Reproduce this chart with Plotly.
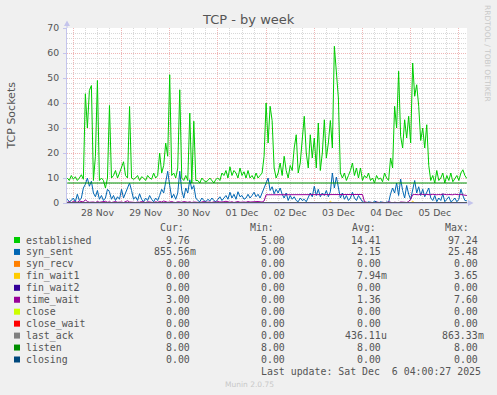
import plotly.graph_objects as go
import pandas as pd

# ---------------- data (hourly samples) ----------------
start_time = "2025-11-27 21:00"
x_range = ["2025-11-27 20:51", "2025-12-06 04:03"]

established = [
    10, 9, 11, 9.5, 10.5, 9, 10, 11.3, 9.5,
    43.7, 30, 45, 47, 9, 18.7, 49, 9, 10, 9, 6, 10, 39, 10, 11, 13, 10, 12, 14, 16.5, 11, 10, 38.6, 10,
    9.5, 10, 11, 9, 10.5, 10, 9, 11, 10, 9.5, 12, 10, 11,
    20, 12, 15, 24, 18.7, 51.3, 11, 12, 10, 14, 45.3, 10, 9, 11, 9, 36, 8, 32.7, 9,
    9, 8, 10, 9, 8.5, 9, 10, 9, 8, 9.5,
    10, 9, 12, 11, 13, 10, 14.5, 11, 13, 12, 10, 14, 11, 12.5, 10, 13,
    10, 11, 9.5, 12, 10, 11, 12,
    18.7, 40, 24, 38.7, 33, 14, 10, 12, 16, 11, 18.7, 13, 10,
    15, 13, 22, 27.3, 12, 16, 25, 34.7, 20, 14, 27.3, 18, 26, 14, 32, 13, 20, 33.3, 18, 24, 33, 22, 62.7, 52, 42, 12,
    10, 12, 9, 11, 13, 16, 11, 14, 10, 14, 9, 11, 10, 12, 9, 10, 8, 11, 9.5, 10, 8.5, 12, 10, 9,
    18, 14, 38.7, 30, 52.7, 26.7, 22, 33.3, 26, 34.7, 24, 56, 42.7, 47.3, 38.7, 25, 30, 22, 31.3, 15, 9,
    11, 8, 13, 9, 10, 12, 8, 11, 9, 12, 8.5, 10, 11, 9, 12, 13.3, 11, 9.76,
]

syn_sent = [
    1.5, 0.5, 1, 2, 0.5, 3.5, 1,
    2, 6, 7.5, 10, 6.7, 8.7, 4, 2.5, 5, 1.5, 3, 1, 2,
    5.5, 4.5, 1.5, 3, 1, 2.5, 1.5, 5.5, 2, 4, 6.5, 8, 5, 1.5, 2.5, 1,
    3.7, 1.5, 0.5, 2, 1, 3, 1.5, 0.5, 2, 1, 3,
    5.5, 4, 8, 12.7, 7, 2, 3.5, 1.5, 4, 12.7, 5, 2, 6, 4, 9.3, 5.5, 7, 2, 1,
    0.5, 2, 1, 0.5, 1.5, 0.8, 2, 1, 0.5,
    1.5, 2.5, 1, 2, 3, 1.5, 4.3, 2, 3.5, 1.5, 4.5, 2.5, 3, 1.5, 2, 3.5,
    2, 3, 4.3, 2.5, 3.5, 2, 4,
    6, 8.7, 10, 5, 6.5, 3.7, 5.5, 4, 6, 3.5, 2, 4, 1, 3,
    1.5, 2.5, 1, 0.5, 2, 1, 1.5, 0.5, 2.5, 4, 2.5, 6.7, 3, 5.5, 2.5, 4, 3, 5, 2.5, 4.5,
    12, 6, 10.4, 5.5, 2, 4, 1.5, 3, 1, 2, 4.3, 2, 1, 3, 1.5, 0.5,
    0.2, 0, 0.5, 0.2, 0, 0.8, 0.3, 0, 0.5, 0.2, 0, 0.4, 0.2,
    3.7, 6, 4, 8, 3, 9.6, 5, 2, 7, 3.5, 1.5, 6, 9, 4, 6.5, 3, 5.5, 2.5, 4, 6, 2,
    1, 3, 0.5, 2, 1, 3.7, 0.5, 1.5, 2.5, 0.5, 1, 2, 0.5, 1.5, 5.5, 3, 1, 0.86,
]

time_wait = [
    0.3, 0.5, 0.2, 0.6, 0.4, 0.3, 0.8, 0.5, 0.4, 1.3, 0.6, 0.3, 0.5, 0.4, 0.2, 0.6, 0.3, 0.5, 0.4, 0.7,
    0.3, 0.5, 0.2, 0.4, 0.6, 0.3, 0.5, 0.4, 0.2, 0.5, 0.9, 0.4, 0.3, 0.5, 0.2, 0.4, 0.3, 0.6, 0.4, 0.2,
    0.5, 0.3, 0.4, 0.2, 0.5, 0.3, 0.6, 0.4, 0.8, 0.5, 0.3, 0.4, 0.6, 0.3, 0.2, 0.5, 0.4, 0.3, 0.6, 0.4,
    0.3, 0.5, 0.2, 0.4, 0.3, 0.5, 0.2, 0.4, 0.6, 0.3, 0.5, 0.4, 0.2, 0.5, 0.3, 0.6, 0.4, 0.3, 0.5, 0.7,
    0.4, 0.3, 0.5, 0.2, 0.4, 0.6, 0.3, 0.5, 0.4, 0.3, 0.6, 0.4, 0.5, 0.3, 0.4, 0.6, 0.5, 0.4, 0.8,
    3.3, 3.3, 3.3, 3.4, 3.3, 3.6, 3.3, 3.3, 3.4, 3.3,
    3.3, 3.6, 3.3, 3.4, 3.3, 3.3, 3.5, 3.3, 3.3, 3.4,
    3.6, 3.3, 3.3, 3.4, 3.3, 3.6, 3.3, 3.3, 3.4, 3.3,
    3.5, 3.3, 3.3, 3.6, 3.3, 3.4, 3.3, 3.3, 3.5, 3.3,
    3.4, 3.3, 3.6, 3.3, 3.3, 3.4, 3.3, 3.3, 3.4,
    0.5, 0.2, 0.1, 0.3, 0.2, 0.1, 0.4, 0.2, 0.1, 0.3, 0.2, 0.1,
    0.5, 0.2, 0.1, 0.3, 0.2, 0.1, 0.4, 0.2, 0.3, 0.2, 0.6, 1.5,
    3.3, 3.4, 3.3, 3.3, 3.6, 3.3, 3.3, 3.4, 3.3, 3.3, 3.5, 3.3, 3.3, 3.4,
    3.3, 3.6, 3.3, 3.3, 3.4, 3.3, 3.3, 3.5, 3.3, 3.3, 3.4, 3.3, 3.3, 3.0,
]

n_pts = len(established)
fin_wait1 = [0.0] * 131 + [0.7] + [0.0] * 40 + [0.7] + [0.0] * 27
listen = [8.0] * n_pts
zero_series = [0.0] * n_pts

assert len(syn_sent) == n_pts, len(syn_sent)
assert len(time_wait) == n_pts, len(time_wait)
assert len(fin_wait1) == n_pts, len(fin_wait1)

day_ticks = ["2025-11-28 12:00", "2025-11-29 12:00", "2025-11-30 12:00", "2025-12-01 12:00",
             "2025-12-02 12:00", "2025-12-03 12:00", "2025-12-04 12:00", "2025-12-05 12:00"]
day_labels = ["28 Nov", "29 Nov", "30 Nov", "01 Dec", "02 Dec", "03 Dec", "04 Dec", "05 Dec"]

names = ["established", "syn_sent", "syn_recv", "fin_wait1", "fin_wait2", "time_wait",
         "close", "close_wait", "last_ack", "listen", "closing"]
colors = ["#00CC00", "#0066B3", "#FF8000", "#FFCC00", "#330099", "#990099",
          "#CCFF00", "#FF0000", "#808080", "#008F00", "#00487D"]
cur_vals = ["9.76", "855.56m", "0.00", "0.00", "0.00", "3.00", "0.00", "0.00", "0.00", "8.00", "0.00"]
min_vals = ["5.00", "0.00", "0.00", "0.00", "0.00", "0.00", "0.00", "0.00", "0.00", "8.00", "0.00"]
avg_vals = ["14.41", "2.15", "0.00", "7.94m", "0.00", "1.36", "0.00", "0.00", "436.11u", "8.00", "0.00"]
max_vals = ["97.24", "25.48", "0.00", "3.65", "0.00", "7.60", "0.00", "0.00", "863.33m", "8.00", "0.00"]

# ---------------- figure ----------------
times = pd.date_range(start_time, periods=n_pts, freq="h")
series = {
    "established": established, "syn_sent": syn_sent, "syn_recv": zero_series,
    "fin_wait1": fin_wait1, "fin_wait2": zero_series, "time_wait": time_wait,
    "close": zero_series, "close_wait": zero_series, "last_ack": zero_series,
    "listen": listen, "closing": zero_series,
}

W, H = 497, 395
L, R, T, B = 67, 467, 28, 203
GRID_MAJOR = "#efb6b6"
GRID_MINOR = "#d8d8d8"
AXIS = "#c4c4ec"
TXT = "#555555"


def px(x):
    return (x - L) / (R - L)


def py(y):
    return (B - y) / (B - T)


fig = go.Figure()
for name, color in zip(names, colors):
    fig.add_trace(go.Scatter(
        x=times, y=series[name], mode="lines", name=name,
        line=dict(color=color, width=1), hoverinfo="skip",
        xaxis="x2" if name == "closing" else "x",
    ))

fig.update_layout(
    width=W, height=H,
    margin=dict(l=L, r=W - R, t=T, b=H - B, pad=0),
    paper_bgcolor="#F0F0F0", plot_bgcolor="#FFFFFF",
    showlegend=False,
    xaxis=dict(
        type="date", range=x_range, tick0="2025-11-28", dtick=86400000,
        showgrid=True, gridcolor=GRID_MAJOR, griddash="1px,1px", gridwidth=1,
        minor=dict(dtick=6 * 3600000, tick0="2025-11-28", showgrid=True,
                   gridcolor=GRID_MINOR, griddash="1px,1px", gridwidth=1),
        showticklabels=False, ticks="", zeroline=False,
        showline=True, linecolor=AXIS, linewidth=1,
    ),
    xaxis2=dict(
        type="date", overlaying="x", matches="x", side="bottom",
        tickmode="array", tickvals=day_ticks, ticktext=day_labels,
        showgrid=False, ticks="", showline=False, zeroline=False,
        tickfont=dict(family="DejaVu Sans", size=9.3, color=TXT),
        ticklabelstandoff=3,
    ),
    yaxis=dict(
        range=[0, 70], tick0=0, dtick=10,
        showgrid=True, gridcolor=GRID_MAJOR, griddash="1px,1px", gridwidth=1,
        minor=dict(dtick=2, showgrid=True, gridcolor=GRID_MINOR, griddash="1px,1px", gridwidth=1),
        zeroline=False, showline=True, linecolor=AXIS, linewidth=1,
        ticks="outside", ticklen=3, tickcolor=AXIS,
        tickfont=dict(family="DejaVu Sans", size=9.3, color=TXT),
        ticklabelstandoff=2,
    ),
)

ann = []


def text(x, y, s, size=9.9, family="DejaVu Sans Mono", color=TXT, xanchor="left", angle=0):
    ann.append(dict(xref="paper", yref="paper", x=px(x), y=py(y), text=s, showarrow=False,
                    xanchor=xanchor, yanchor="middle", borderpad=0, borderwidth=0,
                    textangle=angle, font=dict(family=family, size=size, color=color)))


# title and side texts
text(248, 19.3, "TCP - by week", size=13, family="DejaVu Sans", xanchor="center")
text(11, 115.5, "TCP Sockets", size=11, family="DejaVu Sans", xanchor="center", angle=-90)
text(488, 53, "RRDTOOL / TOBI OETIKER", size=7.5, family="DejaVu Sans", color="#c8c8c8",
     xanchor="center", angle=90)
text(249, 384, "Munin 2.0.75", size=7.5, family="DejaVu Sans", color="#c8c8c8", xanchor="center")

# legend table
row_y0, row_dy = 240.0, 11.95
headers = [("Cur:", 184.1), ("Min:", 274.1), ("Avg:", 376.4), ("Max:", 469.1)]
for h, xr in headers:
    text(xr, 227.5, h, xanchor="right")
col_right = [189.5, 284.5, 381.0, 477.5]
columns = [cur_vals, min_vals, avg_vals, max_vals]
shapes = []
for r, (name, color) in enumerate(zip(names, colors)):
    yc = row_y0 + r * row_dy
    shapes.append(dict(type="rect", xref="paper", yref="paper",
                       x0=px(14), x1=px(20), y0=py(yc + 3), y1=py(yc - 3),
                       fillcolor=color, line=dict(width=0)))
    text(25.5, yc, name)
    for vals, xr in zip(columns, col_right):
        v = vals[r]
        num, suf = (v[:-1], v[-1]) if v[-1].isalpha() else (v, "")
        text(xr, yc, num, xanchor="right")
        if suf:
            text(xr, yc, suf, xanchor="left")
text(261.3, 371.7, "Last update: Sat Dec\u00a0\u00a06 04:00:27 2025")

# axis arrows
shapes.append(dict(type="line", xref="paper", yref="paper", x0=px(67), x1=px(67), y0=py(28), y1=py(23),
                   line=dict(color=AXIS, width=1)))
shapes.append(dict(type="path", xref="paper", yref="paper",
                   path=f"M {px(64)} {py(26)} L {px(67)} {py(20.5)} L {px(70)} {py(26)} Z",
                   fillcolor=AXIS, line=dict(width=0)))
shapes.append(dict(type="line", xref="paper", yref="paper", x0=px(467), x1=px(469), y0=py(203), y1=py(203),
                   line=dict(color=AXIS, width=1)))
shapes.append(dict(type="path", xref="paper", yref="paper",
                   path=f"M {px(468)} {py(200)} L {px(473.5)} {py(203)} L {px(468)} {py(206)} Z",
                   fillcolor=AXIS, line=dict(width=0)))

fig.update_layout(annotations=ann, shapes=shapes)
fig.write_html("out.html")
